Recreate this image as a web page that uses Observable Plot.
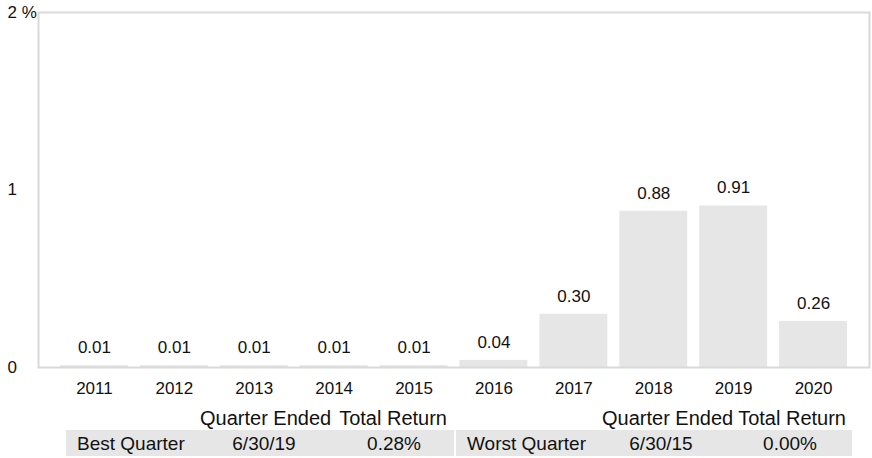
<!DOCTYPE html>
<html>
<head>
<meta charset="utf-8">
<script src="https://cdn.jsdelivr.net/npm/d3@7"></script>
<script src="https://cdn.jsdelivr.net/npm/@observablehq/plot@0.6"></script>
<style>
  html, body { margin: 0; padding: 0; background: #fff; }
  #wrap { position: relative; width: 872px; height: 458px; font-family: "Liberation Sans", Arial, Helvetica, sans-serif; color: #111; }
  #chart { position: absolute; left: 0; top: 0; }
  .t { position: absolute; font-size: 19px; white-space: nowrap; line-height: 26px; height: 26px; }
  .h { font-size: 20px; }
  .row { position: absolute; background: #e6e6e6; height: 26px; top: 430px; }
</style>
</head>
<body>
<div id="wrap">
  <div id="chart"></div>
</div>
<script>
const years = ["2011","2012","2013","2014","2015","2016","2017","2018","2019","2020"];
const returns = [0.01, 0.01, 0.01, 0.01, 0.01, 0.04, 0.30, 0.88, 0.91, 0.26];
const yTicks = [0, 1, 2];
const tableHeaders = ["Quarter Ended", "Total Return"];
const bestQuarter = ["Best Quarter", "6/30/19", "0.28%"];
const worstQuarter = ["Worst Quarter", "6/30/15", "0.00%"];

const data = years.map((y, i) => ({year: y, value: returns[i]}));

const chart = Plot.plot({
  width: 872,
  height: 400,
  marginTop: 12,
  marginBottom: 33,
  marginLeft: 38,
  marginRight: 3,
  style: {fontFamily: '"Liberation Sans", Arial, Helvetica, sans-serif', fontSize: "17px", color: "#111", background: "#fff", overflow: "visible"},
  x: {domain: years, paddingInner: 0.15, paddingOuter: 0.275, round: false, label: null},
  y: {domain: [0, 2], label: null, axis: null},
  marks: [
    Plot.barY(data, {x: "year", y: "value", fill: "#e6e6e6"}),
    Plot.frame({stroke: "#d9d9d9", strokeWidth: 2}),
    Plot.text(data, {x: "year", y: "value", text: d => d.value.toFixed(2), dy: -18, fontSize: 17, fill: "#111"}),
    Plot.axisX({tickSize: 0, tickPadding: 14, fontSize: 17, fill: "#111"}),
    Plot.text(yTicks, {y: d => d, text: d => d === 2 ? "2 %" : String(d), frameAnchor: "left", textAnchor: "start", dx: -31, fontSize: 17, fill: "#111"})
  ]
});
document.getElementById("chart").appendChild(chart);

const wrap = document.getElementById("wrap");
function addDiv(cls, opts, text) {
  const el = document.createElement("div");
  el.className = cls;
  for (const k in opts) el.style[k] = typeof opts[k] === "number" ? opts[k] + "px" : opts[k];
  if (text != null) el.textContent = text;
  wrap.appendChild(el);
  return el;
}
// table row backgrounds
addDiv("row", {left: 66, width: 388});
addDiv("row", {left: 456, width: 396});
// headers
addDiv("t h", {left: 200, top: 405}, tableHeaders[0]);
addDiv("t h", {right: 872 - 447, top: 405}, tableHeaders[1]);
addDiv("t h", {left: 602, top: 405}, tableHeaders[0]);
addDiv("t h", {right: 872 - 846, top: 405}, tableHeaders[1]);
// best quarter row
addDiv("t", {left: 77, top: 431}, bestQuarter[0]);
addDiv("t", {left: 204, top: 431, width: 120, textAlign: "center"}, bestQuarter[1]);
addDiv("t", {left: 334, top: 431, width: 120, textAlign: "center"}, bestQuarter[2]);
// worst quarter row
addDiv("t", {left: 467, top: 431}, worstQuarter[0]);
addDiv("t", {left: 601, top: 431, width: 120, textAlign: "center"}, worstQuarter[1]);
addDiv("t", {left: 730, top: 431, width: 120, textAlign: "center"}, worstQuarter[2]);
</script>
</body>
</html>
